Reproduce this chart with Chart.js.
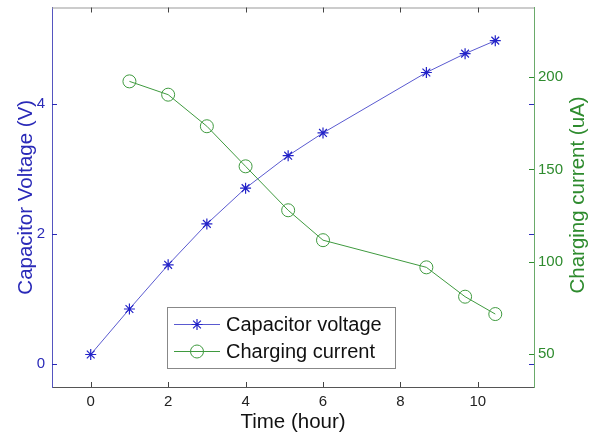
<!DOCTYPE html>
<html>
<head>
<meta charset="utf-8">
<script src="https://cdn.jsdelivr.net/npm/chart.js@4.4.1/dist/chart.umd.min.js"></script>
<style>
  html, body { margin: 0; padding: 0; background: #fff; }
  #wrap { width: 589px; height: 438px; }
</style>
</head>
<body>
<div id="wrap"><canvas id="c" width="589" height="438"></canvas></div>
<script>
// ---- data ----
const timeVoltage = [0, 1, 2, 3, 4, 5.1, 6, 8.67, 9.67, 10.45];
const voltage     = [0.15, 0.85, 1.53, 2.16, 2.71, 3.21, 3.56, 4.49, 4.78, 4.98];
const timeCurrent = [1, 2, 3, 4, 5.1, 6, 8.67, 9.67, 10.45];
const current     = [197.7, 190.5, 173.4, 151.7, 127.9, 111.7, 97.0, 81.1, 71.7];

const xTickValues  = [0, 2, 4, 6, 8, 10];
const yTickValues  = [0, 2, 4];
const y1TickValues = [50, 100, 150, 200];

const seriesNames = ['Capacitor voltage', 'Charging current'];
const xTitle  = 'Time (hour)';
const yTitle  = 'Capacitor Voltage (V)';
const y1Title = 'Charging current (uA)';

const BLUE = '#2a2ab8';
const BLUE_LINE = '#5a5ad0';
const GREEN = '#2e8b2e';
const GREEN_LINE = '#3f9a3f';
const FONT = '"Liberation Sans", Arial, sans-serif';

const toXY = (xs, ys) => xs.map((x, i) => ({ x: x, y: ys[i] }));

const noPad = s => { s.paddingTop = 0; s.paddingBottom = 0; s.paddingLeft = 0; s.paddingRight = 0; };

const inwardTicks = {
  id: 'inwardTicks',
  afterDatasetsDraw(chart) {
    const { ctx, chartArea: a, scales } = chart;
    const L = 5;
    ctx.save();
    ctx.lineWidth = 1;
    // top border
    ctx.strokeStyle = '#999';
    ctx.beginPath();
    ctx.moveTo(a.left, a.top + 0.5);
    ctx.lineTo(a.right, a.top + 0.5);
    ctx.stroke();
    // x ticks bottom and top
    ctx.strokeStyle = '#444';
    scales.x.ticks.forEach(t => {
      const px = Math.round(scales.x.getPixelForValue(t.value)) + 0.5;
      ctx.beginPath();
      ctx.moveTo(px, a.bottom); ctx.lineTo(px, a.bottom - L);
      ctx.moveTo(px, a.top); ctx.lineTo(px, a.top + L);
      ctx.stroke();
    });
    // left y ticks (left and mirrored right)
    ctx.strokeStyle = BLUE;
    scales.y.ticks.forEach(t => {
      const py = Math.round(scales.y.getPixelForValue(t.value)) + 0.5;
      ctx.beginPath();
      ctx.moveTo(a.left, py); ctx.lineTo(a.left + L, py);
      ctx.moveTo(a.right, py); ctx.lineTo(a.right - L, py);
      ctx.stroke();
    });
    // right y ticks
    ctx.strokeStyle = GREEN;
    scales.y1.ticks.forEach(t => {
      const py = Math.round(scales.y1.getPixelForValue(t.value)) + 0.5;
      ctx.beginPath();
      ctx.moveTo(a.right, py); ctx.lineTo(a.right - L, py);
      ctx.stroke();
    });
    ctx.restore();
  }
};

function drawMarker(ctx, style, x, y, r) {
  ctx.beginPath();
  if (style === 'circle') {
    ctx.arc(x, y, r, 0, Math.PI * 2);
  } else {
    ctx.moveTo(x - r, y); ctx.lineTo(x + r, y);
    ctx.moveTo(x, y - r); ctx.lineTo(x, y + r);
    const d = r * Math.SQRT1_2;
    ctx.moveTo(x - d, y - d); ctx.lineTo(x + d, y + d);
    ctx.moveTo(x - d, y + d); ctx.lineTo(x + d, y - d);
  }
  ctx.stroke();
}

const titlesAndLegend = {
  id: 'titlesAndLegend',
  afterDraw(chart) {
    const { ctx, chartArea: a } = chart;
    ctx.save();
    ctx.font = '20.5px ' + FONT;
    ctx.textAlign = 'center';
    ctx.textBaseline = 'middle';
    // x title
    ctx.fillStyle = '#111';
    ctx.fillText(xTitle, (a.left + a.right) / 2, 422);
    // left title
    ctx.save();
    ctx.translate(26, (a.top + a.bottom) / 2);
    ctx.rotate(-Math.PI / 2);
    ctx.fillStyle = BLUE;
    ctx.fillText(yTitle, 0, 0);
    ctx.restore();
    // right title
    ctx.save();
    ctx.translate(578, 195);
    ctx.rotate(-Math.PI / 2);
    ctx.fillStyle = GREEN;
    ctx.fillText(y1Title, 0, 0);
    ctx.restore();

    // legend box
    const bx = 167, by = 307, bw = 228, bh = 61;
    ctx.fillStyle = '#fff';
    ctx.fillRect(bx, by, bw, bh);
    ctx.strokeStyle = '#888';
    ctx.lineWidth = 1;
    ctx.strokeRect(bx + 0.5, by + 0.5, bw, bh);
    const rows = [324.5, 351.5];
    ctx.font = '20px ' + FONT;
    chart.data.datasets.forEach((ds, i) => {
      const y = rows[i];
      ctx.strokeStyle = ds.borderColor;
      ctx.lineWidth = 1;
      ctx.beginPath();
      ctx.moveTo(174, y); ctx.lineTo(220, y);
      ctx.stroke();
      ctx.strokeStyle = ds.pointBorderColor;
      ctx.lineWidth = ds.pointBorderWidth;
      drawMarker(ctx, ds.pointStyle, 197, y, ds.pointRadius);
      ctx.fillStyle = '#111';
      ctx.textAlign = 'left';
      ctx.fillText(ds.label, 226, y + 1);
    });
    ctx.restore();
  }
};

new Chart(document.getElementById('c'), {
  type: 'line',
  data: {
    datasets: [
      {
        label: seriesNames[0],
        data: toXY(timeVoltage, voltage),
        yAxisID: 'y',
        borderColor: BLUE_LINE,
        borderWidth: 1,
        pointStyle: 'star',
        pointRadius: 5.5,
        pointBorderColor: '#2323c8',
        pointBorderWidth: 1.2,
        pointBackgroundColor: 'rgba(0,0,0,0)',
        tension: 0,
        fill: false,
        order: 2
      },
      {
        label: seriesNames[1],
        data: toXY(timeCurrent, current),
        yAxisID: 'y1',
        borderColor: GREEN_LINE,
        borderWidth: 1,
        pointStyle: 'circle',
        pointRadius: 6.5,
        pointBorderColor: GREEN_LINE,
        pointBorderWidth: 1,
        pointBackgroundColor: 'rgba(0,0,0,0)',
        tension: 0,
        fill: false,
        order: 1
      }
    ]
  },
  options: {
    responsive: false,
    animation: false,
    layout: { padding: { top: 7, left: 0, right: 0, bottom: 0 } },
    plugins: { legend: { display: false }, tooltip: { enabled: false } },
    scales: {
      x: {
        type: 'linear',
        position: 'bottom',
        min: -1,
        max: 11.45,
        afterBuildTicks: s => { s.ticks = xTickValues.map(v => ({ value: v })); },
        afterFit: s => { s.height = 51; noPad(s); },
        grid: { display: false, drawTicks: false },
        border: { display: true, color: '#555', width: 1 },
        ticks: { padding: 6, color: '#222', font: { family: FONT, size: 15 }, maxRotation: 0 }
      },
      y: {
        type: 'linear',
        position: 'left',
        min: -0.35,
        max: 5.49,
        afterBuildTicks: s => { s.ticks = yTickValues.map(v => ({ value: v })); },
        afterFit: s => { s.width = 52; noPad(s); },
        grid: { display: false, drawTicks: false },
        border: { display: true, color: '#5555c0', width: 1 },
        ticks: { padding: 7, color: BLUE, font: { family: FONT, size: 15 } }
      },
      y1: {
        type: 'linear',
        position: 'right',
        min: 32.2,
        max: 237.7,
        afterBuildTicks: s => { s.ticks = y1TickValues.map(v => ({ value: v })); },
        afterFit: s => { s.width = 55; noPad(s); },
        grid: { display: false, drawTicks: false },
        border: { display: true, color: '#6aaa6a', width: 1 },
        ticks: { padding: 4, color: GREEN, font: { family: FONT, size: 15 } }
      }
    }
  },
  plugins: [inwardTicks, titlesAndLegend]
});
</script>
</body>
</html>
